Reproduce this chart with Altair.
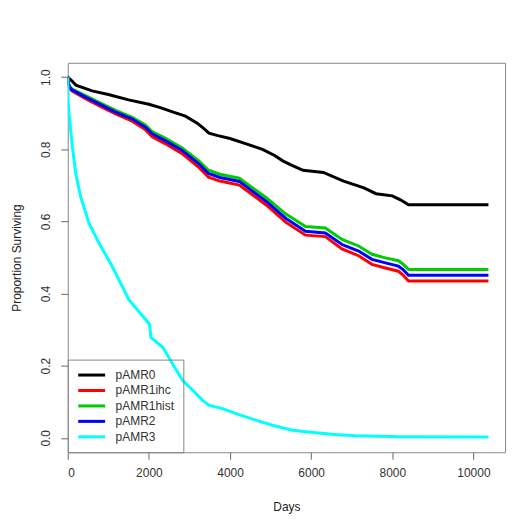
import altair as alt
import pandas as pd

series_names = ["pAMR0", "pAMR1ihc", "pAMR1hist", "pAMR2", "pAMR3"]
series_colors = ["#000000", "#ff0000", "#00cc00", "#0000ff", "#00ffff"]

black_days = [0, 100, 200, 600, 1000, 1500, 2000, 2300, 2600, 2900, 3200, 3350, 3480, 3700,
              4000, 4400, 4800, 5100, 5300, 5500, 5800, 6300, 6800, 7300, 7600, 8000, 8200, 8400, 10370]
black_surv = [1.0, 0.99, 0.978, 0.962, 0.952, 0.937, 0.925, 0.915, 0.903, 0.892, 0.872, 0.858, 0.845, 0.838,
              0.830, 0.815, 0.800, 0.783, 0.768, 0.757, 0.742, 0.736, 0.712, 0.693, 0.677, 0.671, 0.660, 0.646, 0.646]

col_days = [0, 30, 100, 450, 770, 1180, 1590, 1920, 2080, 2400, 2820, 3230, 3470, 3750, 4230,
            4900, 5370, 5860, 6350, 6760, 7170, 7500, 7830, 8150, 8260, 8400, 10370]
red_surv = [1.0, 0.972, 0.962, 0.940, 0.921, 0.898, 0.878, 0.854, 0.835, 0.816, 0.788, 0.750, 0.723, 0.712, 0.701,
            0.645, 0.598, 0.562, 0.558, 0.524, 0.505, 0.481, 0.471, 0.462, 0.452, 0.435, 0.435]
green_surv = [1.0, 0.977, 0.968, 0.948, 0.930, 0.908, 0.889, 0.867, 0.849, 0.831, 0.804, 0.768, 0.742, 0.731, 0.720,
              0.665, 0.621, 0.586, 0.582, 0.550, 0.532, 0.509, 0.499, 0.491, 0.482, 0.467, 0.467]
blue_surv = [1.0, 0.975, 0.965, 0.944, 0.926, 0.903, 0.884, 0.861, 0.843, 0.824, 0.797, 0.760, 0.733, 0.722, 0.711,
             0.655, 0.609, 0.573, 0.568, 0.536, 0.518, 0.495, 0.485, 0.476, 0.467, 0.451, 0.451]

cyan_days = [0, 10, 32, 115, 197, 319, 523, 769, 1098, 1506, 2015, 2050, 2342, 2587, 2833, 3079, 3324,
             3489, 3816, 4145, 4636, 5044, 5536, 6111, 6602, 7093, 7420, 8157, 10370]
cyan_surv = [1.0, 0.93, 0.898, 0.806, 0.733, 0.668, 0.595, 0.540, 0.475, 0.383, 0.315, 0.278, 0.251, 0.205,
             0.159, 0.132, 0.104, 0.090, 0.081, 0.067, 0.049, 0.035, 0.021, 0.014, 0.009, 0.006, 0.005, 0.003, 0.002]

x_ticks = [0, 2000, 4000, 6000, 8000, 10000]
y_ticks = [0.0, 0.2, 0.4, 0.6, 0.8, 1.0]

rows = []
for name, days, surv in [
    ("pAMR0", black_days, black_surv),
    ("pAMR1ihc", col_days, red_surv),
    ("pAMR1hist", col_days, green_surv),
    ("pAMR2", col_days, blue_surv),
    ("pAMR3", cyan_days, cyan_surv),
]:
    for i, (d, s) in enumerate(zip(days, surv)):
        rows.append({"group": name, "days": d, "surv": s, "idx": i})
df = pd.DataFrame(rows)

FONT = "Liberation Sans"
FS = 12

chart = alt.Chart(df).mark_line(strokeWidth=3, clip=True).encode(
    x=alt.X("days:Q",
            scale=alt.Scale(domain=[0, 10780], nice=False, zero=False),
            axis=alt.Axis(values=x_ticks, format="d", title="Days", grid=False, domain=False,
                          tickSize=7, tickColor="#666", labelPadding=8, labelFontSize=FS,
                          labelColor="#333", labelFont=FONT, titleFont=FONT, titleFontSize=FS,
                          titleFontWeight="normal", titleColor="#222", titleY=54,
                          titleBaseline="middle")),
    y=alt.Y("surv:Q",
            scale=alt.Scale(domain=[-0.04, 1.04], nice=False, zero=False),
            axis=alt.Axis(values=y_ticks, format=".1f", title="Proportion Surviving", grid=False,
                          domain=False, tickSize=7, tickColor="#666", labelAngle=270,
                          labelAlign="center", labelBaseline="alphabetic", labelPadding=11,
                          labelFontSize=FS, labelColor="#333", labelFont=FONT, titleFont=FONT,
                          titleFontSize=FS, titleFontWeight="normal", titleColor="#222",
                          titleAngle=270, titleX=-51, titleY=195.5, titleAlign="center",
                          titleBaseline="middle")),
    color=alt.Color("group:N",
                    scale=alt.Scale(domain=series_names, range=series_colors),
                    sort=series_names,
                    legend=alt.Legend(orient="none", legendX=0, legendY=298, title=None,
                                      symbolType="M-1.0,0H4.4", symbolSize=100,
                                      symbolStrokeWidth=3, labelFontSize=FS, labelFont=FONT,
                                      labelColor="#333", padding=9, strokeColor="#888",
                                      rowPadding=2.5, labelOffset=26)),
    order="idx:Q",
).properties(
    width=439, height=391,
    autosize=alt.AutoSizeParams(type="none"),
    padding={"left": 60, "top": 54, "right": 15, "bottom": 62},
    background="white",
).configure_view(stroke="#888", strokeWidth=1)

chart.save("out.html", embed_options={"renderer": "svg", "actions": False})
